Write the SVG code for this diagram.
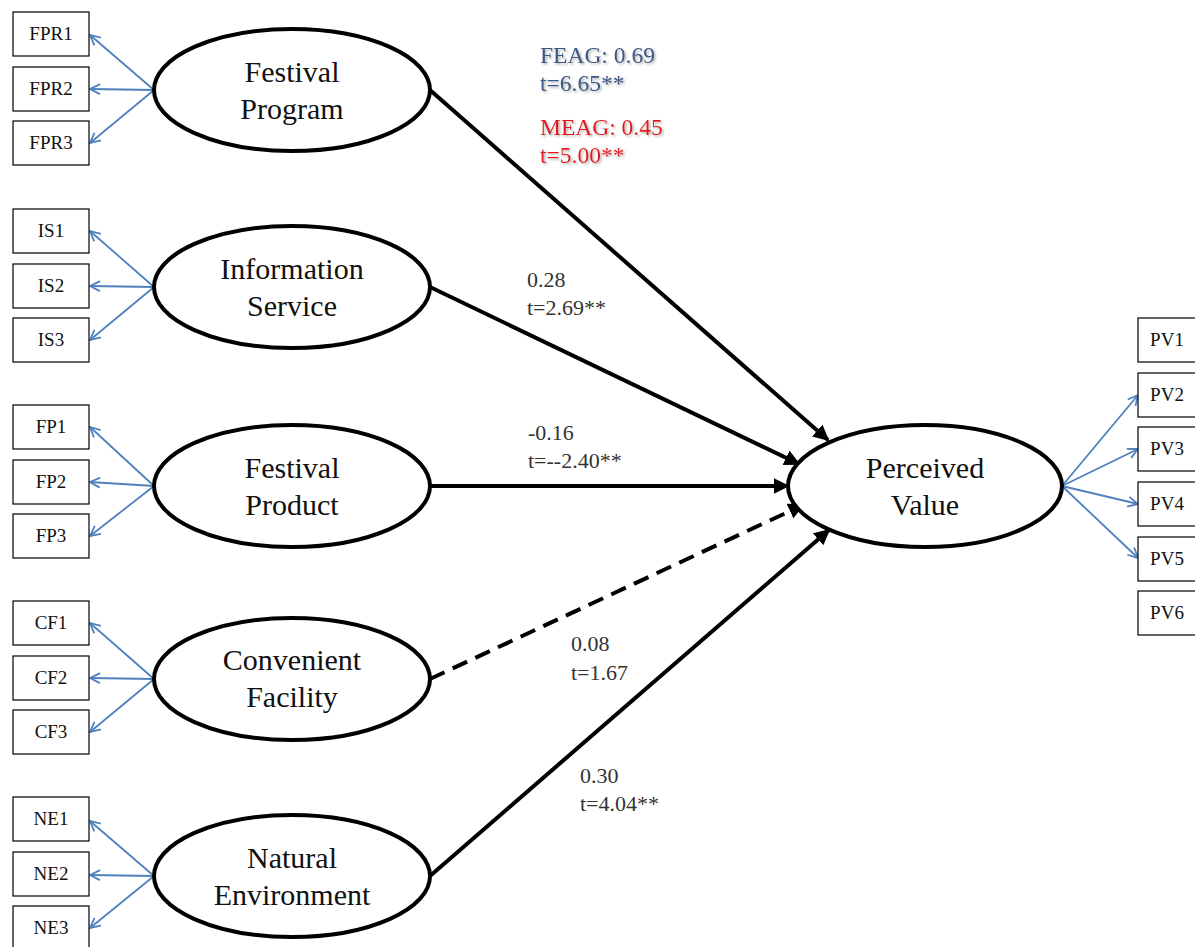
<svg xmlns="http://www.w3.org/2000/svg" width="1195" height="947" viewBox="0 0 1195 947">
<style>
.box{fill:#fff;stroke:#000;stroke-width:1.2}
.bt{font-family:"Liberation Serif",serif;font-size:19px;fill:#111;text-anchor:middle}
.el{fill:#fff;stroke:#000;stroke-width:4}
.et{font-family:"Liberation Serif",serif;font-size:30px;fill:#111;text-anchor:middle}
.ind{stroke:#4F81BD;stroke-width:1.8;fill:none;marker-end:url(#open)}
.str{stroke:#000;stroke-width:4;fill:none;marker-end:url(#solid)}
.lab{font-family:"Liberation Serif",serif;font-size:22px;fill:#333}
.big{font-family:"Liberation Serif",serif;font-size:23.5px;filter:url(#sh)}
</style>
<defs>
<marker id="open" viewBox="0 0 12 12" refX="11" refY="6" markerWidth="12" markerHeight="12" markerUnits="userSpaceOnUse" orient="auto">
<path d="M1,1 L11,6 L1,11" fill="none" stroke="#4F81BD" stroke-width="1.8"/>
</marker>
<marker id="solid" viewBox="0 0 10 10" refX="9" refY="5" markerWidth="16" markerHeight="16" markerUnits="userSpaceOnUse" orient="auto">
<path d="M0,0 L10,5 L0,10 Z" fill="#000"/>
</marker>
<filter id="sh" x="-10%" y="-30%" width="130%" height="170%">
<feDropShadow dx="1.5" dy="1.5" stdDeviation="0.8" flood-color="#999" flood-opacity="0.8"/>
</filter>
</defs>
<g id="connectors">
<line class="ind" x1="154" y1="90" x2="90" y2="35"/>
<line class="ind" x1="154" y1="90" x2="90" y2="89"/>
<line class="ind" x1="154" y1="90" x2="90" y2="143"/>
<line class="ind" x1="154" y1="287" x2="90" y2="231"/>
<line class="ind" x1="154" y1="287" x2="90" y2="286"/>
<line class="ind" x1="154" y1="287" x2="90" y2="340"/>
<line class="ind" x1="154" y1="486" x2="90" y2="427"/>
<line class="ind" x1="154" y1="486" x2="90" y2="482"/>
<line class="ind" x1="154" y1="486" x2="90" y2="536"/>
<line class="ind" x1="154" y1="679" x2="90" y2="623"/>
<line class="ind" x1="154" y1="679" x2="90" y2="678"/>
<line class="ind" x1="154" y1="679" x2="90" y2="732"/>
<line class="ind" x1="154" y1="876" x2="90" y2="821"/>
<line class="ind" x1="154" y1="876" x2="90" y2="875"/>
<line class="ind" x1="154" y1="876" x2="90" y2="928"/>
<line class="ind" x1="1062" y1="486" x2="1138" y2="395"/>
<line class="ind" x1="1062" y1="486" x2="1138" y2="449"/>
<line class="ind" x1="1062" y1="486" x2="1138" y2="504"/>
<line class="ind" x1="1062" y1="486" x2="1138" y2="558"/>
<line class="str" x1="430" y1="90" x2="828" y2="440"/>
<line class="str" x1="430" y1="287" x2="799" y2="464"/>
<line class="str" x1="430" y1="486" x2="788" y2="486"/>
<line class="str" x1="430" y1="679" x2="803" y2="505" stroke-dasharray="16,9"/>
<line class="str" x1="430" y1="876" x2="829" y2="530"/>
</g>
<g id="n-fpr1"><rect class="box" x="13" y="12" width="76" height="44"/><text class="bt" x="51" y="40">FPR1</text></g>
<g id="n-fpr2"><rect class="box" x="13" y="67" width="76" height="44"/><text class="bt" x="51" y="95">FPR2</text></g>
<g id="n-fpr3"><rect class="box" x="13" y="121" width="76" height="44"/><text class="bt" x="51" y="149">FPR3</text></g>
<g id="n-is1"><rect class="box" x="13" y="209" width="76" height="44"/><text class="bt" x="51" y="237">IS1</text></g>
<g id="n-is2"><rect class="box" x="13" y="264" width="76" height="44"/><text class="bt" x="51" y="292">IS2</text></g>
<g id="n-is3"><rect class="box" x="13" y="318" width="76" height="44"/><text class="bt" x="51" y="346">IS3</text></g>
<g id="n-fp1"><rect class="box" x="13" y="405" width="76" height="44"/><text class="bt" x="51" y="433">FP1</text></g>
<g id="n-fp2"><rect class="box" x="13" y="460" width="76" height="44"/><text class="bt" x="51" y="488">FP2</text></g>
<g id="n-fp3"><rect class="box" x="13" y="514" width="76" height="44"/><text class="bt" x="51" y="542">FP3</text></g>
<g id="n-cf1"><rect class="box" x="13" y="601" width="76" height="44"/><text class="bt" x="51" y="629">CF1</text></g>
<g id="n-cf2"><rect class="box" x="13" y="656" width="76" height="44"/><text class="bt" x="51" y="684">CF2</text></g>
<g id="n-cf3"><rect class="box" x="13" y="710" width="76" height="44"/><text class="bt" x="51" y="738">CF3</text></g>
<g id="n-ne1"><rect class="box" x="13" y="797" width="76" height="44"/><text class="bt" x="51" y="825">NE1</text></g>
<g id="n-ne2"><rect class="box" x="13" y="852" width="76" height="44"/><text class="bt" x="51" y="880">NE2</text></g>
<g id="n-ne3"><rect class="box" x="13" y="906" width="76" height="44"/><text class="bt" x="51" y="934">NE3</text></g>
<g id="n-pv1"><rect class="box" x="1138" y="318" width="70" height="44"/><text class="bt" x="1167" y="346">PV1</text></g>
<g id="n-pv2"><rect class="box" x="1138" y="373" width="70" height="44"/><text class="bt" x="1167" y="401">PV2</text></g>
<g id="n-pv3"><rect class="box" x="1138" y="427" width="70" height="44"/><text class="bt" x="1167" y="455">PV3</text></g>
<g id="n-pv4"><rect class="box" x="1138" y="482" width="70" height="44"/><text class="bt" x="1167" y="510">PV4</text></g>
<g id="n-pv5"><rect class="box" x="1138" y="537" width="70" height="44"/><text class="bt" x="1167" y="565">PV5</text></g>
<g id="n-pv6"><rect class="box" x="1138" y="591" width="70" height="44"/><text class="bt" x="1167" y="619">PV6</text></g>
<g id="n-festprog"><ellipse class="el" cx="292" cy="90" rx="138" ry="61"/><text class="et" x="292" y="82">Festival</text><text class="et" x="292" y="119">Program</text></g>
<g id="n-infoserv"><ellipse class="el" cx="292" cy="287" rx="138" ry="61"/><text class="et" x="292" y="279">Information</text><text class="et" x="292" y="316">Service</text></g>
<g id="n-festprod"><ellipse class="el" cx="292" cy="486" rx="138" ry="61"/><text class="et" x="292" y="478">Festival</text><text class="et" x="292" y="515">Product</text></g>
<g id="n-convfac"><ellipse class="el" cx="292" cy="679" rx="138" ry="61"/><text class="et" x="292" y="670">Convenient</text><text class="et" x="292" y="707">Facility</text></g>
<g id="n-natenv"><ellipse class="el" cx="292" cy="876" rx="138" ry="61"/><text class="et" x="292" y="868">Natural</text><text class="et" x="292" y="905">Environment</text></g>
<g id="n-pv"><ellipse class="el" cx="925" cy="486" rx="137" ry="61"/><text class="et" x="925" y="478">Perceived</text><text class="et" x="925" y="515">Value</text></g>
<g id="labels">
<text class="big" x="540" y="63" fill="#3A5888">FEAG: 0.69</text>
<text class="big" x="540" y="91" fill="#3A5888">t=6.65**</text>
<text class="big" x="540" y="135" fill="#E3191C">MEAG: 0.45</text>
<text class="big" x="540" y="163" fill="#E3191C">t=5.00**</text>
<text class="lab" x="527" y="287">0.28</text>
<text class="lab" x="527" y="315">t=2.69**</text>
<text class="lab" x="528" y="440">-0.16</text>
<text class="lab" x="528" y="468">t=--2.40**</text>
<text class="lab" x="571" y="651">0.08</text>
<text class="lab" x="571" y="680">t=1.67</text>
<text class="lab" x="580" y="783">0.30</text>
<text class="lab" x="580" y="811">t=4.04**</text>
</g>
</svg>
